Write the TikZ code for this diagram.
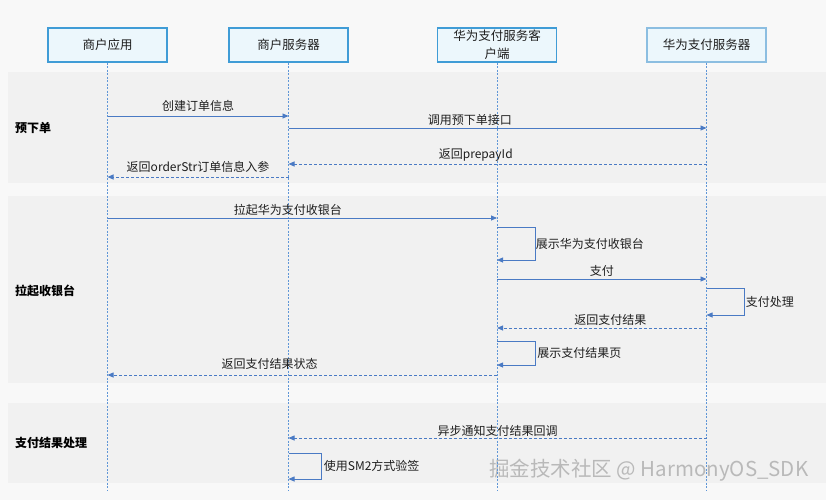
\documentclass[tikz,border=0pt]{standalone}
\usepackage{fontspec}
\setmainfont{Noto Sans CJK SC}
\usetikzlibrary{arrows.meta}
\definecolor{pagebg}{RGB}{248,248,248}
\definecolor{bandbg}{RGB}{241,241,241}
\definecolor{boxfill}{RGB}{236,247,252}
\definecolor{boxline}{RGB}{64,156,214}
\definecolor{boxlinelight}{RGB}{140,190,225}
\definecolor{arrowc}{RGB}{74,122,196}
\definecolor{lifec}{RGB}{95,150,215}
\definecolor{txt}{RGB}{30,30,30}
\begin{document}
\begin{tikzpicture}[x=1pt,y=-1pt,
 actor/.style={draw=boxline,line width=1.5pt,fill=boxfill,minimum width=119pt,minimum height=34pt,inner sep=0pt,text=txt,font=\fontsize{12.5}{18}\selectfont,align=center},
 life/.style={lifec,line width=0.6pt,dash pattern=on 2pt off 1.5pt},
 msg/.style={arrowc,line width=0.8pt,-{Triangle[length=6pt,width=5pt]}},
 ret/.style={msg,dash pattern=on 3pt off 2pt},
 lbl/.style={text=txt,font=\fontsize{12}{14}\selectfont,inner sep=1pt},
 sect/.style={text=black,font=\bfseries\fontsize{12}{14}\selectfont,anchor=west,inner sep=0pt}]

\fill[pagebg] (0,0) rectangle (826,500);
\useasboundingbox (0,0) rectangle (826,500);
\fill[bandbg] (8,72) rectangle (826,183);
\fill[bandbg] (8,196) rectangle (826,383);
\fill[bandbg] (8,403) rectangle (826,483);

% watermark
\node[anchor=west,inner sep=0pt,text=gray!55,font=\fontsize{20.5}{22}\selectfont] (wm) at (489,470) {掘金技术社区 @ HarmonyOS\_SDK};

% section labels
\node[sect] (s1) at (15,128) {预下单};
\node[sect] (s2) at (15,291) {拉起收银台};
\node[sect] (s3) at (15,443) {支付结果处理};

% actors
\node[actor] (app) at (107.5,45) {商户应用};
\node[actor] (srv) at (288.5,45) {商户服务器};
\node[actor] (cli) at (497,45) {华为支付服务客\\户端};
\node[actor,draw=boxlinelight] (hws) at (706.5,45) {华为支付服务器};

% lifelines
\coordinate (appEnd) at (app |- 0,490);
\coordinate (srvEnd) at (srv |- 0,490);
\coordinate (cliEnd) at (cli |- 0,490);
\coordinate (hwsEnd) at (hws |- 0,490);
\draw[life] (app.south) -- (appEnd);
\draw[life] (srv.south) -- (srvEnd);
\draw[life] (cli.south) -- (cliEnd);
\draw[life] (hws.south) -- (hwsEnd);

% 预下单
\draw[msg] (app |- 0,116) -- node[lbl,above=3pt] (m1) {创建订单信息} (srv |- 0,116);
\draw[msg] (srv |- 0,128) -- node[lbl,above=1pt,pos=0.434] (m2) {调用预下单接口} (hws |- 0,128);
\draw[ret] (hws |- 0,164) -- node[lbl,above=1pt,pos=0.552] (m3) {返回prepayId} (srv |- 0,164);
\draw[ret] (srv |- 0,177) -- node[lbl,above=3pt] (m4) {返回orderStr订单信息入参} (app |- 0,177);

% 拉起收银台
\draw[msg] (app |- 0,218) -- node[lbl,above=1pt,pos=0.463] (m5) {拉起华为支付收银台} (cli |- 0,218);
\draw[msg] (cli |- 0,227) -- ++(38,0) -- node[lbl,right,inner sep=0.5pt] (m6) {展示华为支付收银台} ++(0,33) -- (cli |- 0,260);
\draw[msg] (cli |- 0,279) -- node[lbl,above=1pt] (m7) {支付} (hws |- 0,279);
\draw[msg] (hws |- 0,288) -- ++(38,0) -- node[lbl,right,inner sep=1pt] (m8) {支付处理} ++(0,27) -- (hws |- 0,315);
\draw[ret] (hws |- 0,328) -- node[lbl,above=1pt,pos=0.459] (m9) {返回支付结果} (cli |- 0,328);
\draw[msg] (cli |- 0,341) -- ++(38,0) -- node[lbl,right,inner sep=2pt] (m10) {展示支付结果页} ++(0,24) -- (cli |- 0,365);
\draw[ret] (cli |- 0,375) -- node[lbl,above=4pt,pos=0.584] (m11) {返回支付结果状态} (app |- 0,375);

% 支付结果处理
\draw[ret] (hws |- 0,438) -- node[lbl,above=0pt,pos=0.5] (m12) {异步通知支付结果回调} (srv |- 0,438);
\draw[msg] (srv |- 0,453) -- ++(33,0) -- node[lbl,right,inner sep=2pt] (m13) {使用SM2方式验签} ++(0,26) -- (srv |- 0,479);
\end{tikzpicture}
\end{document}
